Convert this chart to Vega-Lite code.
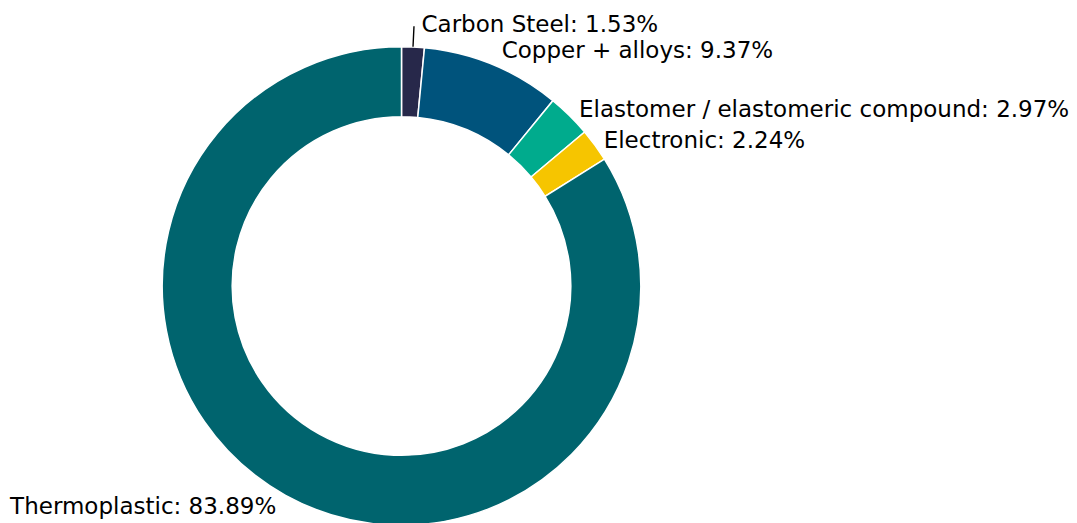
{
  "$schema": "https://vega.github.io/schema/vega-lite/v6.json",
  "width": 803,
  "height": 572,
  "padding": 0,
  "autosize": {"type": "pad"},
  "background": "white",
  "config": {"view": {"stroke": null}, "text": {"font": "DejaVu Sans", "fontSize": 23, "color": "black"}},
  "data": {
    "values": [
      {"cat": "Carbon Steel", "value": 1.53, "label": "Carbon Steel: 1.53%"},
      {"cat": "Copper + alloys", "value": 9.37, "label": "Copper + alloys: 9.37%"},
      {"cat": "Elastomer / elastomeric compound", "value": 2.97, "label": "Elastomer / elastomeric compound: 2.97%"},
      {"cat": "Electronic", "value": 2.24, "label": "Electronic: 2.24%"},
      {"cat": "Thermoplastic", "value": 83.89, "label": "Thermoplastic: 83.89%"}
    ]
  },
  "encoding": {
    "theta": {"field": "value", "type": "quantitative", "stack": true}
  },
  "layer": [
    {
      "mark": {"type": "arc", "radius": 239.3, "radius2": 169.3, "stroke": "white", "strokeWidth": 1.5},
      "encoding": {
        "color": {
          "field": "cat", "type": "nominal", "legend": null,
          "scale": {
            "domain": ["Carbon Steel", "Copper + alloys", "Elastomer / elastomeric compound", "Electronic", "Thermoplastic"],
            "range": ["#27284a", "#00537c", "#00ab8d", "#f6c500", "#00646e"]
          }
        }
      }
    },
    {
      "mark": {"type": "arc", "radius": 260, "radius2": 239.5, "padAngle": 0.3, "fill": null, "stroke": "black", "strokeWidth": 1.4},
      "encoding": {
        "detail": {"field": "cat"},
        "strokeOpacity": {"condition": {"test": "datum.cat === 'Carbon Steel'", "value": 1}, "value": 0}
      }
    },
    {
      "mark": {"type": "text", "radius": 250, "align": "left", "baseline": "alphabetic", "dx": 8, "dy": -4.6},
      "encoding": {
        "detail": {"field": "cat"},
        "text": {"condition": {"test": "datum.cat === 'Carbon Steel'", "field": "label"}, "value": ""}
      }
    },
    {
      "mark": {"type": "text", "radius": 250, "align": "left", "baseline": "alphabetic", "dx": 5, "dy": 3.5},
      "encoding": {
        "detail": {"field": "cat"},
        "text": {"condition": {"test": "datum.cat === 'Copper + alloys'", "field": "label"}, "value": ""}
      }
    },
    {
      "mark": {"type": "text", "radius": 250, "align": "left", "baseline": "alphabetic", "dx": 2, "dy": 8.8},
      "encoding": {
        "detail": {"field": "cat"},
        "text": {"condition": {"test": "datum.cat === 'Elastomer / elastomeric compound'", "field": "label"}, "value": ""}
      }
    },
    {
      "mark": {"type": "text", "radius": 250, "align": "left", "baseline": "alphabetic", "dx": 0, "dy": 9.3},
      "encoding": {
        "detail": {"field": "cat"},
        "text": {"condition": {"test": "datum.cat === 'Electronic'", "field": "label"}, "value": ""}
      }
    },
    {
      "mark": {"type": "text", "radius": 250, "align": "right", "baseline": "alphabetic", "dx": -4, "dy": 9.3},
      "encoding": {
        "detail": {"field": "cat"},
        "text": {"condition": {"test": "datum.cat === 'Thermoplastic'", "field": "label"}, "value": ""}
      }
    }
  ]
}
